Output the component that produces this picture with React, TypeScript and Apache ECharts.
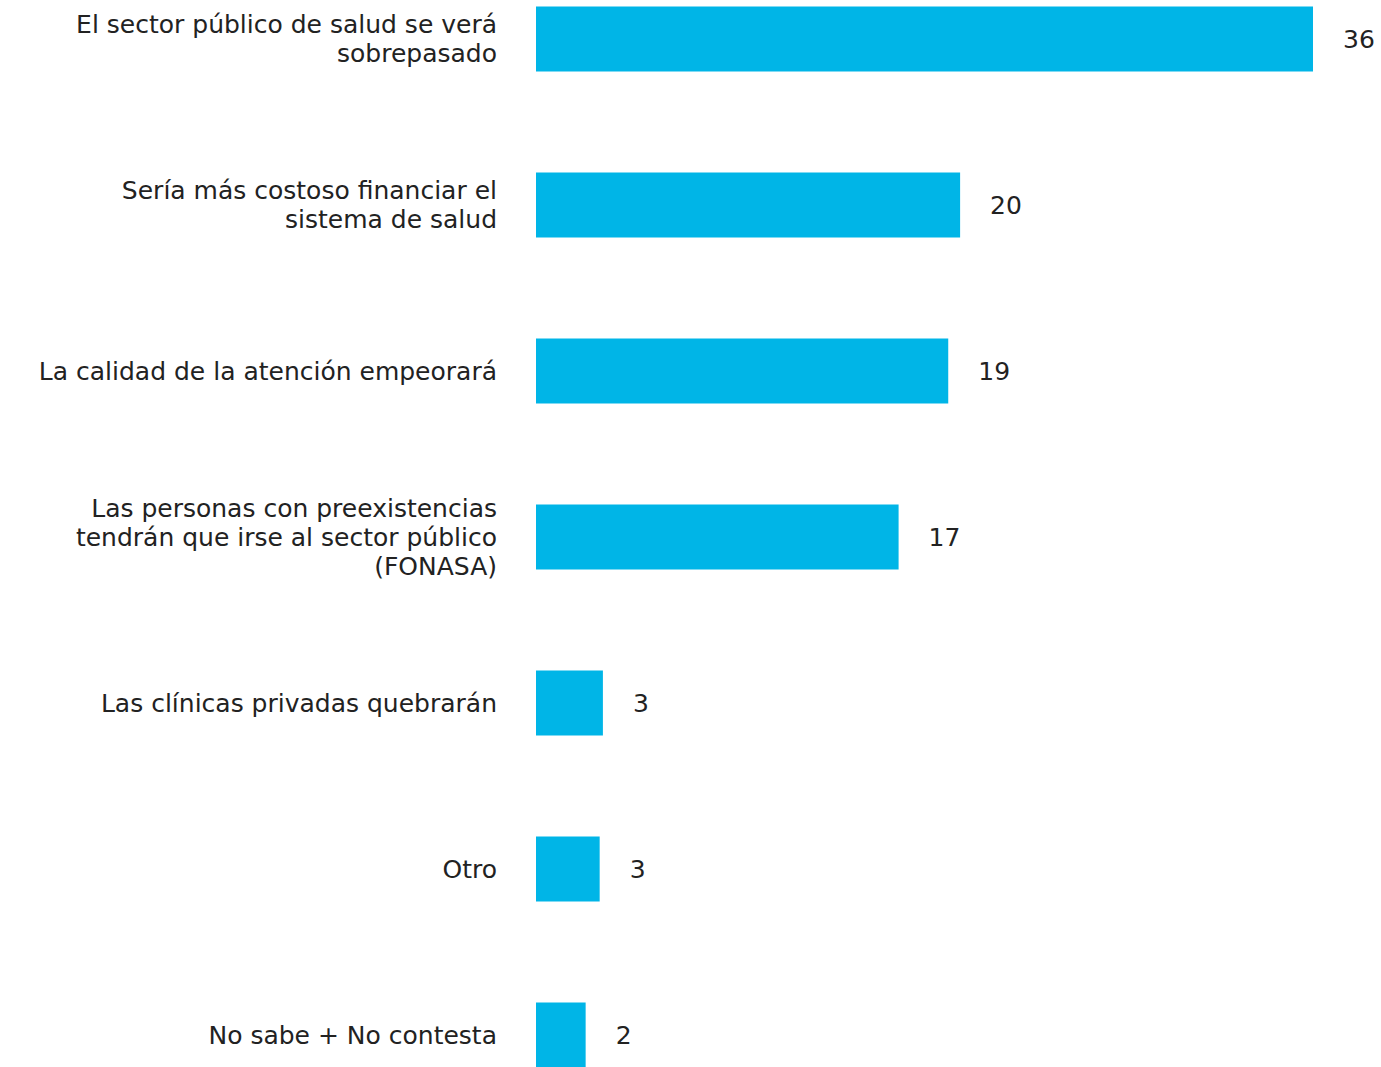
import React, { useEffect, useRef } from "react";
import * as echarts from "echarts";

const categories = [
  "El sector público de salud se verá\nsobrepasado",
  "Sería más costoso financiar el\nsistema de salud",
  "La calidad de la atención empeorará",
  "Las personas con preexistencias\ntendrán que irse al sector público\n(FONASA)",
  "Las clínicas privadas quebrarán",
  "Otro",
  "No sabe + No contesta",
];
const values = [36, 19.65, 19.1, 16.8, 3.1, 2.95, 2.3];

export default function App() {
  const ref = useRef<HTMLDivElement>(null);
  useEffect(() => {
    const chart = echarts.init(ref.current!, null, { renderer: "svg" });
    const font = "'DejaVu Sans', sans-serif";
    chart.setOption({
      animation: false,
      backgroundColor: "#ffffff",
      grid: { left: 536, width: 777, top: 0, height: 1162 },
      xAxis: { type: "value", min: 0, max: 36, show: false },
      yAxis: {
        type: "category",
        data: categories,
        inverse: true,
        axisLine: { show: false },
        axisTick: { show: false },
        axisLabel: {
          margin: 39,
          fontSize: 25,
          lineHeight: 29,
          color: "#222222",
          fontFamily: font,
          align: "right",
        },
      },
      series: [
        {
          type: "bar",
          data: values,
          barWidth: 65,
          itemStyle: { color: "#00B5E7" },
          label: {
            show: true,
            position: "right",
            distance: 30,
            fontSize: 25,
            color: "#222222",
            fontFamily: font,
            formatter: (p: any) => String(Math.round(p.value)),
          },
        },
      ],
    });
    return () => chart.dispose();
  }, []);
  return (
    <div
      style={{
        position: "fixed",
        left: 0,
        top: 0,
        width: 1381,
        height: 1067,
        overflow: "hidden",
        background: "#ffffff",
      }}
    >
      <div
        ref={ref}
        style={{ position: "absolute", left: 0, top: -44, width: 1381, height: 1162 }}
      />
    </div>
  );
}
